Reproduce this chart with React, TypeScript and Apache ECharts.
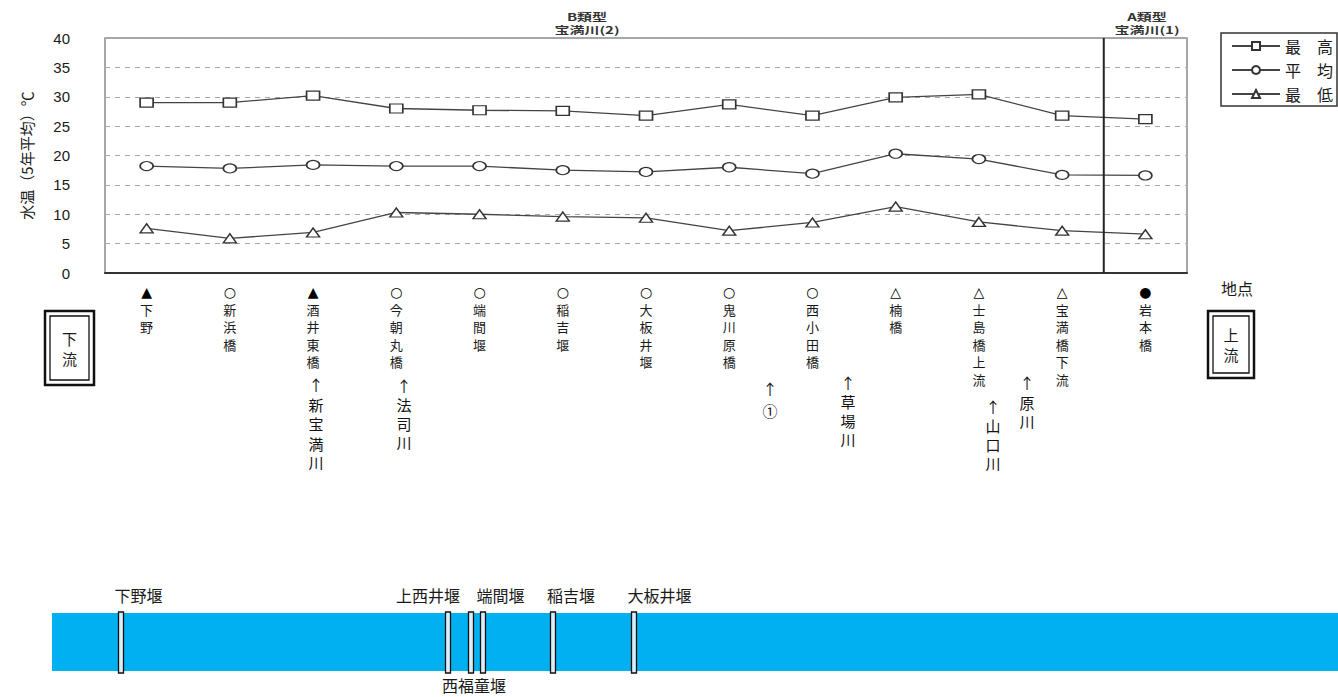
import React, { useEffect, useRef } from 'react';
import * as echarts from 'echarts';

// Monitoring sites, listed from downstream (left) to upstream (right)
const sites = ['下野', '新浜橋', '酒井東橋', '今朝丸橋', '端間堰', '稲吉堰', '大板井堰', '鬼川原橋', '西小田橋', '楠橋', '士島橋上流', '宝満橋下流', '岩本橋'];
const siteMarks = ['▲', '○', '▲', '○', '○', '○', '○', '○', '○', '△', '△', '△', '●'];

// Water temperature, 5-year averages (°C)
const maxTemp = [29.0, 29.0, 30.2, 28.0, 27.7, 27.6, 26.8, 28.7, 26.8, 29.9, 30.4, 26.8, 26.2];
const meanTemp = [18.2, 17.8, 18.4, 18.2, 18.2, 17.5, 17.2, 18.0, 16.9, 20.3, 19.4, 16.7, 16.6];
const minTemp = [7.6, 5.9, 6.9, 10.3, 10.0, 9.6, 9.4, 7.2, 8.6, 11.3, 8.7, 7.2, 6.6];

const seriesNames = ['最高', '平均', '最低'];
const yMin = 0;
const yMax = 40;
const yStep = 5;

// Tributaries joining the main stream
const tributaries = ['新宝満川', '法司川', '①', '草場川', '山口川', '原川'];
// Weirs on the river schematic
const weirs = ['下野堰', '上西井堰', '西福童堰', '端間堰', '稲吉堰', '大板井堰'];

// Layout of the annotation texts (pixels)
const tributaryLayout = [
  { x: 316, y: 375, lh: 19.5 },
  { x: 404, y: 376, lh: 19 },
  { x: 770, y: 377, lh: 22 },
  { x: 848, y: 373, lh: 19 },
  { x: 993, y: 397, lh: 19 },
  { x: 1027, y: 373, lh: 19.5 },
];
const weirLayout = [
  { x: 121, labelX: 138.5, labelY: 595 },
  { x: 448, labelX: 428, labelY: 595 },
  { x: 471, labelX: 474, labelY: 685 },
  { x: 483, labelX: 500.5, labelY: 595 },
  { x: 553, labelX: 571, labelY: 595 },
  { x: 634, labelX: 659.5, labelY: 595 },
];

const FONT = "'Noto Sans CJK JP', 'Noto Sans', sans-serif";
const INK = '#1a1a1a';

function vertical(s: string) {
  return s.split('').join('\n');
}

function flowBox(x: number, y: number, w: number, h: number, label: string) {
  return [
    { type: 'rect', shape: { x, y, width: w, height: h }, style: { fill: '#fff', stroke: '#111', lineWidth: 2.5 } },
    { type: 'rect', shape: { x: x + 5, y: y + 5, width: w - 10, height: h - 10 }, style: { fill: 'none', stroke: '#111', lineWidth: 1.3 } },
    {
      type: 'text', x: x + w / 2, y: y + h / 2,
      style: { text: vertical(label), font: `15px ${FONT}`, fill: INK, textAlign: 'center', textVerticalAlign: 'middle', lineHeight: 20 },
    },
  ];
}

function buildGraphics(sepX: number, yTop: number, yBot: number) {
  const g: any[] = [];
  // Boundary between water-quality classes B and A
  g.push({ type: 'line', shape: { x1: sepX, y1: yTop, x2: sepX, y2: yBot }, style: { stroke: '#222', lineWidth: 2 }, z: 10 });
  // Class captions are drawn in a horizontally widened face
  const cls = (x: number, a: string, b: string) => {
    g.push({ type: 'text', x, y: 17, scaleX: 1.5, style: { text: a, font: `bold 10px ${FONT}`, fill: '#333', textAlign: 'center', textVerticalAlign: 'middle' } });
    g.push({ type: 'text', x, y: 30, scaleX: 1.5, style: { text: b, font: `bold 10px ${FONT}`, fill: '#333', textAlign: 'center', textVerticalAlign: 'middle' } });
  };
  cls(587, 'B類型', '宝満川(2)');
  cls(1147, 'A類型', '宝満川(1)');

  g.push({ type: 'text', x: 1237, y: 288, style: { text: '地点', font: `16px ${FONT}`, fill: INK, textAlign: 'center', textVerticalAlign: 'middle' } });
  g.push(...flowBox(45, 311, 49, 74, '下流'));
  g.push(...flowBox(1208, 311, 46, 67, '上流'));

  tributaries.forEach((t, i) => {
    const p = tributaryLayout[i];
    g.push({
      type: 'text', x: p.x, y: p.y,
      style: { text: '↑\n' + vertical(t), font: `15px ${FONT}`, fill: '#111', textAlign: 'center', textVerticalAlign: 'top', lineHeight: p.lh },
    });
  });

  // River schematic
  g.push({ type: 'rect', shape: { x: 52, y: 613, width: 1286, height: 58 }, style: { fill: '#00B0F0' } });
  weirs.forEach((w, i) => {
    const p = weirLayout[i];
    g.push({ type: 'rect', shape: { x: p.x - 2.5, y: 612, width: 5, height: 61 }, style: { fill: '#d8eef8', stroke: '#111', lineWidth: 1.3 } });
    g.push({ type: 'text', x: p.labelX, y: p.labelY, style: { text: w, font: `16px ${FONT}`, fill: INK, textAlign: 'center', textVerticalAlign: 'middle' } });
  });
  return g;
}

export default function App() {
  const ref = useRef<HTMLDivElement>(null);

  useEffect(() => {
    const chart = echarts.init(ref.current!, null, { renderer: 'svg' });
    const markerStyle = { color: '#fff', borderColor: '#333', borderWidth: 1.4 };
    const lineStyle = { color: '#444', width: 1.3 };
    const values = [maxTemp, meanTemp, minTemp];
    const symbols = ['rect', 'circle', 'triangle'];

    chart.setOption({
      animation: false,
      backgroundColor: '#fff',
      textStyle: { fontFamily: FONT },
      grid: { left: 105, top: 38, width: 1082, height: 235, show: true, borderColor: '#8a8a8a', borderWidth: 1.5, backgroundColor: 'transparent' },
      legend: {
        orient: 'vertical',
        left: 1221,
        top: 33,
        padding: [5, 4, 4, 10],
        itemGap: 8,
        itemWidth: 48,
        itemHeight: 10,
        borderColor: '#333',
        borderWidth: 1.5,
        backgroundColor: '#fff',
        textStyle: { fontSize: 16, color: INK, fontFamily: FONT, lineHeight: 16 },
        formatter: (n: string) => n.split('').join('\u3000'),
        data: seriesNames,
      },
      xAxis: {
        type: 'category',
        data: sites,
        boundaryGap: true,
        axisLine: { lineStyle: { color: '#333', width: 2 } },
        axisTick: { inside: true, length: 5, interval: 0, lineStyle: { color: '#333', width: 1.5 } },
        axisLabel: {
          interval: 0,
          margin: 10,
          fontSize: 13,
          lineHeight: 17.5,
          color: INK,
          fontFamily: FONT,
          verticalAlign: 'top',
          formatter: (v: string, i: number) => '{m|' + siteMarks[i] + '}\n' + vertical(v),
          rich: {
            m: { fontSize: 14, lineHeight: 17.5, color: '#000', fontFamily: "'DejaVu Sans', sans-serif" },
          },
        },
      },
      yAxis: {
        type: 'value',
        min: yMin,
        max: yMax,
        interval: yStep,
        name: '水温（5年平均）℃',
        nameLocation: 'middle',
        nameGap: 71,
        nameRotate: 90,
        nameTextStyle: { fontSize: 15, color: INK, fontFamily: FONT },
        axisLine: { show: false },
        axisTick: { show: false },
        axisLabel: { fontSize: 15, color: INK, margin: 35, fontFamily: "'Liberation Sans', Arial, sans-serif" },
        splitLine: { lineStyle: { color: '#a8a8a8', type: [5, 5], width: 1.2 } },
      },
      series: seriesNames.map((name, i) => ({
        name,
        type: 'line',
        data: values[i],
        symbol: symbols[i],
        symbolSize: [13, 9],
        showAllSymbol: true,
        lineStyle,
        itemStyle: markerStyle,
        z: 5,
      })),
    });

    const a = chart.convertToPixel({ xAxisIndex: 0 }, sites[sites.length - 2]) as number;
    const b = chart.convertToPixel({ xAxisIndex: 0 }, sites[sites.length - 1]) as number;
    const yTop = chart.convertToPixel({ yAxisIndex: 0 }, yMax) as number;
    const yBot = chart.convertToPixel({ yAxisIndex: 0 }, yMin) as number;
    chart.setOption({ graphic: buildGraphics((a + b) / 2, yTop, yBot) });

    return () => chart.dispose();
  }, []);

  return <div ref={ref} style={{ position: 'absolute', left: 0, top: 0, width: 1338, height: 697 }} />;
}
